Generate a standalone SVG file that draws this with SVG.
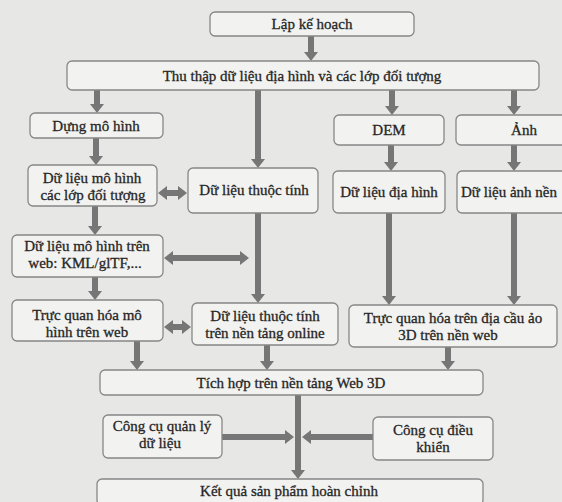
<svg xmlns="http://www.w3.org/2000/svg" width="562" height="502" viewBox="0 0 562 502">
<style>
.bx{fill:#f2f2f0;stroke:#878787;stroke-width:1.3}
text{font-size:15px;fill:#262626;stroke:#262626;stroke-width:0.3;text-anchor:middle}
.a{stroke:#767676;stroke-width:6;fill:none;marker-end:url(#h)}
.d{stroke:#767676;stroke-width:6;fill:none;marker-end:url(#h);marker-start:url(#h)}
</style>
<defs>
<marker id="h" viewBox="0 0 9 14" refX="0" refY="7" markerWidth="9" markerHeight="14" markerUnits="userSpaceOnUse" orient="auto-start-reverse">
<path d="M0,0 L9,7 L0,14 z" fill="#767676"/>
</marker>
</defs>
<rect x="0" y="0" width="562" height="502" fill="#e7e7e5"/>
<g id="connectors">
<line class="a" x1="311" y1="36" x2="311" y2="52"/>
<line class="a" x1="97" y1="90" x2="97" y2="104"/>
<line class="a" x1="258" y1="90" x2="258" y2="159"/>
<line class="a" x1="392" y1="90" x2="392" y2="106"/>
<line class="a" x1="514" y1="90" x2="514" y2="106"/>
<line class="a" x1="96" y1="138" x2="96" y2="156"/>
<line class="a" x1="391" y1="145" x2="391" y2="162"/>
<line class="a" x1="514" y1="145" x2="514" y2="162"/>
<line class="a" x1="95" y1="206" x2="95" y2="226"/>
<line class="a" x1="258" y1="213" x2="258" y2="294"/>
<line class="a" x1="95" y1="277" x2="95" y2="291"/>
<line class="a" x1="389" y1="213" x2="389" y2="296"/>
<line class="a" x1="514" y1="213" x2="514" y2="296"/>
<line class="a" x1="137" y1="341" x2="137" y2="361"/>
<line class="a" x1="267" y1="345" x2="267" y2="361"/>
<line class="a" x1="448" y1="347" x2="448" y2="361"/>
<line class="a" x1="298" y1="395" x2="298" y2="470"/>
<line class="d" x1="167" y1="193" x2="178" y2="193"/>
<line class="d" x1="173" y1="258" x2="240" y2="258"/>
<line class="d" x1="173" y1="327" x2="182" y2="327"/>
<line class="a" x1="222" y1="437" x2="285" y2="437"/>
<line class="a" x1="373" y1="437" x2="311" y2="437"/>
</g>
<g font-family="Liberation Serif, Times New Roman, serif">
<g id="lap"><rect class="bx" x="210" y="12" width="204" height="24" rx="5"/><text x="312" y="29">Lập kế hoạch</text></g>
<g id="thu"><rect class="bx" x="67" y="61" width="472" height="29" rx="5"/><text x="302" y="81">Thu thập dữ liệu địa hình và các lớp đối tượng</text></g>
<g id="dung"><rect class="bx" x="30" y="113" width="133" height="25" rx="5"/><text x="96" y="131">Dựng mô hình</text></g>
<g id="dem"><rect class="bx" x="334" y="115" width="110" height="30" rx="5"/><text x="389" y="135">DEM</text></g>
<g id="anh"><rect class="bx" x="456" y="115" width="136" height="30" rx="5"/><text x="524" y="135">Ảnh</text></g>
<g id="dlmh"><rect class="bx" x="28" y="165" width="129" height="41" rx="5"/><text x="92" y="183">Dữ liệu mô hình</text><text x="93" y="200">các lớp đối tượng</text></g>
<g id="dltt"><rect class="bx" x="188" y="168" width="130" height="45" rx="5"/><text x="254" y="195">Dữ liệu thuộc tính</text></g>
<g id="dlh"><rect class="bx" x="333" y="171" width="112" height="42" rx="5"/><text x="389" y="197">Dữ liệu địa hình</text></g>
<g id="dlan"><rect class="bx" x="457" y="171" width="130" height="42" rx="5"/><text x="461" y="197" text-anchor="start" style="text-anchor:start">Dữ liệu ảnh nền</text></g>
<g id="web"><rect class="bx" x="12" y="235" width="151" height="42" rx="5"/><text x="87" y="251">Dữ liệu mô hình trên</text><text x="85" y="268">web: KML/glTF,...</text></g>
<g id="tqmh"><rect class="bx" x="12" y="300" width="151" height="41" rx="5"/><text x="87" y="320">Trực quan hóa mô</text><text x="87" y="337">hình trên web</text></g>
<g id="online"><rect class="bx" x="192" y="303" width="146" height="42" rx="5"/><text x="265" y="321">Dữ liệu thuộc tính</text><text x="265" y="338">trên nền tảng online</text></g>
<g id="diacau"><rect class="bx" x="349" y="305" width="208" height="42" rx="5"/><text x="453" y="323">Trực quan hóa trên địa cầu ảo</text><text x="448" y="340">3D trên nền web</text></g>
<g id="tichhop"><rect class="bx" x="100" y="370" width="383" height="25" rx="5"/><text x="291" y="388">Tích hợp trên nền tảng Web 3D</text></g>
<g id="quanly"><rect class="bx" x="103" y="415" width="119" height="43" rx="5"/><text x="162" y="431">Công cụ quản lý</text><text x="160" y="448">dữ liệu</text></g>
<g id="dieukhien"><rect class="bx" x="373" y="417" width="120" height="43" rx="5"/><text x="433" y="435">Công cụ điều</text><text x="433" y="452">khiển</text></g>
<g id="ketqua"><rect class="bx" x="97" y="479" width="386" height="26" rx="5"/><text x="289" y="496">Kết quả sản phẩm hoàn chỉnh</text></g>
</g>
</svg>
